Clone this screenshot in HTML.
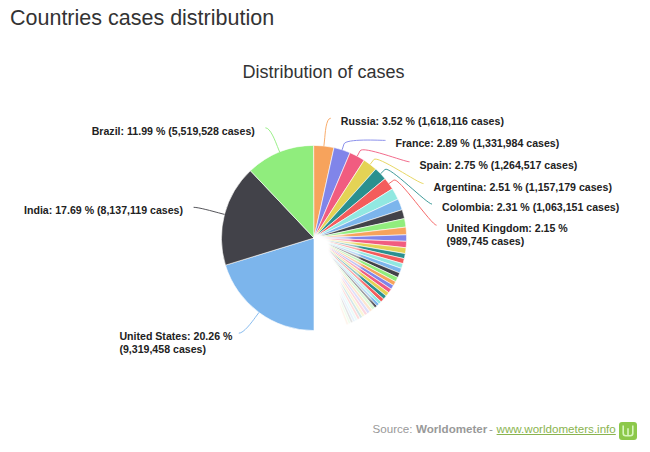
<!DOCTYPE html>
<html><head><meta charset="utf-8">
<style>
html,body{margin:0;padding:0;background:#fff;width:650px;height:452px;overflow:hidden}
body{position:relative;font-family:"Liberation Sans",sans-serif}
#h{position:absolute;left:10px;top:3px;font-size:21.5px;color:#333;white-space:nowrap;line-height:30px}
svg{position:absolute;left:0;top:0}
.lb{font-family:"Liberation Sans",sans-serif;font-size:10.6px;font-weight:bold;fill:#222}
.s{position:absolute;top:421.9px;font-size:11.6px;color:#999;white-space:nowrap;line-height:14px}
.lk{color:#8ab44f;text-decoration:underline}
</style></head><body>
<div id="h">Countries cases distribution</div>
<svg width="650" height="452" viewBox="0 0 650 452">
<defs>
<filter id="bl" x="-10%" y="-10%" width="120%" height="120%"><feGaussianBlur stdDeviation="0.45"/></filter>
<clipPath id="cw"><path d="M314.0 142.4H411.6V335.6H314.0Z"/></clipPath>
<filter id="bl2" x="-20%" y="-20%" width="140%" height="140%"><feGaussianBlur stdDeviation="1.5"/></filter>
</defs>
<text x="323.5" y="77.5" text-anchor="middle" style="font-family:'Liberation Sans',sans-serif;font-size:18px;fill:#333">Distribution of cases</text>
<g stroke="#fff" stroke-width="0.6" stroke-linejoin="round" filter="url(#bl)">
<path fill="#7cb5ec" d="M314.00 330.60A92.6 92.6 0 0 1 225.48 265.17L314.0 238.0Z"/>
<path fill="#434348" d="M225.48 265.17A92.6 92.6 0 0 1 250.40 170.70L314.0 238.0Z"/>
<path fill="#90ed7d" d="M250.40 170.70A92.6 92.6 0 0 1 313.70 145.40L314.0 238.0Z"/>
<path fill="#f7a35c" d="M313.70 145.40A92.6 92.6 0 0 1 334.01 147.59L314.0 238.0Z"/>
<path fill="#8085e9" d="M334.01 147.59A92.6 92.6 0 0 1 350.04 152.70L314.0 238.0Z"/>
<path fill="#f15c80" d="M350.04 152.70A92.6 92.6 0 0 1 364.16 160.16L314.0 238.0Z"/>
<path fill="#e4d354" d="M364.16 160.16A92.6 92.6 0 0 1 375.79 169.03L314.0 238.0Z"/>
<path fill="#2b908f" d="M375.79 169.03A92.6 92.6 0 0 1 385.12 178.70L314.0 238.0Z"/>
<path fill="#f45b5b" d="M385.12 178.70A92.6 92.6 0 0 1 392.46 188.82L314.0 238.0Z"/>
<path fill="#91e8e1" d="M392.46 188.82A92.6 92.6 0 0 1 398.03 199.10L314.0 238.0Z"/>
<path fill="#7cb5ec" d="M398.03 199.10A92.6 92.6 0 0 1 402.18 209.73L314.0 238.0Z"/>
<path fill="#434348" d="M402.18 209.73A92.6 92.6 0 0 1 404.54 218.59L314.0 238.0Z"/>
<path fill="#90ed7d" d="M404.54 218.59A92.6 92.6 0 0 1 405.95 227.07L314.0 238.0Z"/>
<path fill="#f7a35c" d="M405.95 227.07A92.6 92.6 0 0 1 406.54 234.79L314.0 238.0Z"/>
<path fill="#8085e9" d="M406.54 234.79A92.6 92.6 0 0 1 406.54 241.35L314.0 238.0Z"/>
<path fill="#f15c80" d="M406.54 241.35A92.6 92.6 0 0 1 406.08 247.77L314.0 238.0Z"/>
<path fill="#e4d354" d="M406.08 247.77A92.6 92.6 0 0 1 405.27 253.64L314.0 238.0Z"/>
<path fill="#2b908f" d="M405.27 253.64A92.6 92.6 0 0 1 404.26 258.68L314.0 238.0Z"/>
<path fill="#f45b5b" d="M404.26 258.68A92.6 92.6 0 0 1 402.97 263.66L314.0 238.0Z"/>
<path fill="#91e8e1" d="M402.97 263.66A92.6 92.6 0 0 1 401.46 268.42L314.0 238.0Z"/>
<path fill="#7cb5ec" d="M401.46 268.42A92.6 92.6 0 0 1 399.71 273.06L314.0 238.0Z"/>
<path fill="#434348" d="M399.71 273.06A92.6 92.6 0 0 1 397.78 277.45L314.0 238.0Z"/>
<path fill="#90ed7d" d="M397.78 277.45A92.6 92.6 0 0 1 395.66 281.66L314.0 238.0Z"/>
<path fill="#f7a35c" d="M395.66 281.66A92.6 92.6 0 0 1 393.50 285.48L314.0 238.0Z"/>
<path fill="#8085e9" d="M393.50 285.48A92.6 92.6 0 0 1 391.20 289.14L314.0 238.0Z"/>
<path fill="#f15c80" d="M391.20 289.14A92.6 92.6 0 0 1 388.74 292.66L314.0 238.0Z"/>
<path fill="#e4d354" d="M388.74 292.66A92.6 92.6 0 0 1 386.20 295.99L314.0 238.0Z"/>
<path fill="#2b908f" d="M386.20 295.99A92.6 92.6 0 0 1 383.64 299.03L314.0 238.0Z"/>
<path fill="#f45b5b" d="M383.64 299.03A92.6 92.6 0 0 1 381.07 301.84L314.0 238.0Z"/>
<path fill="#91e8e1" d="M381.07 301.84A92.6 92.6 0 0 1 379.02 303.93L314.0 238.0Z"/>
<path fill="#7cb5ec" d="M379.02 303.93A92.6 92.6 0 0 1 376.92 305.94L314.0 238.0Z"/>
<path fill="#434348" d="M376.92 305.94A92.6 92.6 0 0 1 374.83 307.82L314.0 238.0Z"/>
<path fill="#90ed7d" fill-opacity="0.60" d="M374.83 307.82A92.6 92.6 0 0 1 372.33 309.92L314.0 238.0Z"/>
<path fill="#f7a35c" fill-opacity="0.57" d="M372.33 309.92A92.6 92.6 0 0 1 369.84 311.87L314.0 238.0Z"/>
<path fill="#8085e9" fill-opacity="0.54" d="M369.84 311.87A92.6 92.6 0 0 1 367.35 313.68L314.0 238.0Z"/>
<path fill="#f15c80" fill-opacity="0.50" d="M367.35 313.68A92.6 92.6 0 0 1 364.88 315.37L314.0 238.0Z"/>
<path fill="#e4d354" fill-opacity="0.47" d="M364.88 315.37A92.6 92.6 0 0 1 362.43 316.92L314.0 238.0Z"/>
<path fill="#2b908f" fill-opacity="0.44" d="M362.43 316.92A92.6 92.6 0 0 1 360.02 318.36L314.0 238.0Z"/>
<path fill="#f45b5b" fill-opacity="0.41" d="M360.02 318.36A92.6 92.6 0 0 1 357.63 319.68L314.0 238.0Z"/>
<path fill="#91e8e1" fill-opacity="0.38" d="M357.63 319.68A92.6 92.6 0 0 1 355.29 320.88L314.0 238.0Z"/>
<path fill="#7cb5ec" fill-opacity="0.35" d="M355.29 320.88A92.6 92.6 0 0 1 353.00 321.99L314.0 238.0Z"/>
<path fill="#434348" fill-opacity="0.31" d="M353.00 321.99A92.6 92.6 0 0 1 350.75 322.99L314.0 238.0Z"/>
<path fill="#90ed7d" fill-opacity="0.28" d="M350.75 322.99A92.6 92.6 0 0 1 348.57 323.91L314.0 238.0Z"/>
<path fill="#f7a35c" fill-opacity="0.25" d="M348.57 323.91A92.6 92.6 0 0 1 346.44 324.73L314.0 238.0Z"/>
</g>
<g clip-path="url(#cw)"><path d="M314.00 238.00 L314.44 233.95 L315.50 233.29 L316.43 233.39 L317.45 233.47 L318.46 233.70 L319.39 234.09 L320.26 234.61 L320.80 235.35 L322.78 235.66 L323.57 236.41 L324.72 237.18 L326.70 238.01 L326.92 238.92 L327.94 239.93 L329.90 241.18 L329.68 242.05 L329.90 243.05 L329.71 243.94 L329.92 245.00 L329.79 245.93 L330.55 247.36 L330.31 248.26 L329.90 249.07 L329.79 250.11 L330.07 251.49 L330.16 252.76 L334.26 257.90 L333.79 258.71 L333.83 260.08 L339.73 268.22 L339.19 268.98 L342.72 274.86 L342.83 276.49 L342.53 277.60 L342.43 279.03 L341.69 279.53 L341.35 280.67 L341.45 282.51 L341.34 284.07 L341.01 285.28 L342.11 289.09 L342.07 290.91 L341.27 291.33 L341.22 293.24 L340.66 294.15 L341.42 297.91 L340.60 298.28 L341.16 301.82 L340.32 302.17 L340.63 305.33 L339.79 305.66 L314.00 333.60Z" fill="#fff" fill-opacity="1.0" filter="url(#bl2)"/><path d="M314.00 238.00 L314.05 237.50 L314.15 237.52 L314.23 237.56 L314.30 237.60 L314.36 237.65 L314.40 237.71 L314.44 237.76 L314.47 237.82 L314.48 237.87 L341.64 233.41 L344.97 235.63 L350.69 238.03 L351.33 240.65 L354.26 243.58 L359.93 247.19 L359.29 249.71 L359.93 252.60 L359.39 255.16 L359.99 258.22 L359.61 260.91 L361.82 265.04 L361.11 267.64 L359.94 269.99 L359.62 272.98 L360.44 276.97 L360.69 280.65 L372.53 295.50 L371.18 297.83 L371.29 301.79 L375.98 310.79 L374.31 312.17 L372.75 313.42 L371.31 314.52 L369.88 315.57 L368.45 316.58 L367.03 317.54 L365.60 318.48 L364.18 319.37 L362.79 320.21 L361.41 321.01 L360.08 321.76 L358.80 322.45 L357.53 323.12 L356.26 323.75 L355.01 324.36 L353.79 324.93 L352.60 325.46 L351.43 325.97 L350.29 326.45 L349.16 326.90 L348.05 327.33 L314.00 333.60Z" fill="#fff" fill-opacity="0.5" filter="url(#bl2)"/></g>
<g fill="none" stroke-width="1" stroke-opacity="0.9">
<path stroke="#90ed7d" d="M265.40 127.80C270.40 127.80 275.18 140.87 277.41 146.44L279.64 152.01"/>
<path stroke="#434348" d="M193.60 207.30C198.60 207.30 212.86 211.32 218.66 212.85L224.46 214.38"/>
<path stroke="#7cb5ec" d="M238.80 333.20C243.80 333.20 251.83 322.12 255.39 317.29L258.96 312.47"/>
<path stroke="#f7a35c" d="M330.80 118.20C325.80 118.20 325.20 134.00 324.56 139.97L323.92 145.93"/>
<path stroke="#8085e9" d="M385.50 140.40C380.50 140.40 345.79 138.35 343.96 144.06L342.14 149.78"/>
<path stroke="#f15c80" d="M409.50 161.80C404.50 161.80 362.87 145.52 360.06 150.82L357.26 156.13"/>
<path stroke="#e4d354" d="M423.50 183.60C418.50 183.60 377.43 154.82 373.79 159.60L370.15 164.37"/>
<path stroke="#2b908f" d="M432.00 204.10C427.00 204.10 389.26 165.36 384.95 169.53L380.63 173.69"/>
<path stroke="#f45b5b" d="M436.50 225.20C431.50 225.20 398.68 176.59 393.82 180.11L388.96 183.64"/>
</g>
<g class="lb">
<text x="91.7" y="134.8">Brazil: 11.99 % (5,519,528 cases)</text>
<text x="24.0" y="214.3">India: 17.69 % (8,137,119 cases)</text>
<text x="119.4" y="340.2">United States: 20.26 %</text>
<text x="119.4" y="352.8">(9,319,458 cases)</text>
<text x="340.8" y="125.2">Russia: 3.52 % (1,618,116 cases)</text>
<text x="395.5" y="147.4">France: 2.89 % (1,331,984 cases)</text>
<text x="419.5" y="168.8">Spain: 2.75 % (1,264,517 cases)</text>
<text x="433.5" y="190.6">Argentina: 2.51 % (1,157,179 cases)</text>
<text x="442.0" y="211.1">Colombia: 2.31 % (1,063,151 cases)</text>
<text x="446.5" y="232.2">United Kingdom: 2.15 %</text>
<text x="446.5" y="244.8">(989,745 cases)</text>
</g>
</svg>
<div class="s" style="left:372.5px">Source:</div>
<div class="s" style="left:416px;font-weight:bold">Worldometer</div>
<div class="s" style="left:489px">-</div>
<div class="s lk" style="left:496.6px">www.worldometers.info</div>
<svg width="18" height="18" viewBox="0 0 18 18" style="position:absolute;left:619px;top:421.5px"><rect x="0" y="0" width="18" height="18" rx="3" fill="#8cc84a"/><path d="M4.2 3.4V11.2Q4.2 13.7 6.7 13.7H11.3Q13.8 13.7 13.8 11.2V3.4M9 6.2V13.7" fill="none" stroke="#d8f6bd" stroke-width="1.6"/></svg>
</body></html>
